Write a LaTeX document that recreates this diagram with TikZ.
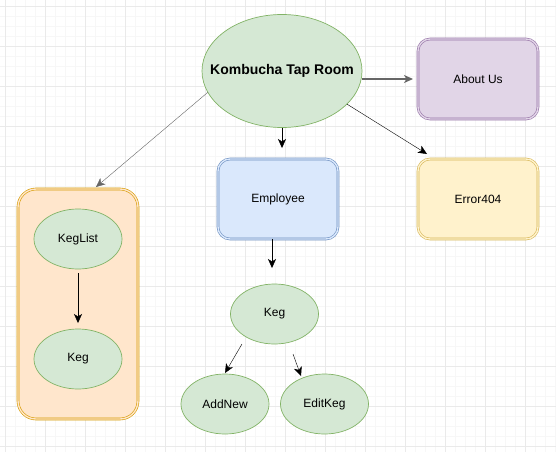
\documentclass[tikz,border=0pt]{standalone}
\usepackage{fontspec}
\setmainfont{Liberation Sans}
\usetikzlibrary{shapes.geometric,arrows.meta}

\definecolor{greenfill}{HTML}{D5E8D4}
\definecolor{greenline}{HTML}{82B366}
\definecolor{purplefill}{HTML}{E1D5E7}
\definecolor{purpleline}{HTML}{9673A6}
\definecolor{yellowfill}{HTML}{FFF2CC}
\definecolor{yellowline}{HTML}{D6B656}
\definecolor{bluefill}{HTML}{DAE8FC}
\definecolor{blueline}{HTML}{6C8EBF}
\definecolor{orangefill}{HTML}{FFE6CC}
\definecolor{orangeline}{HTML}{D79B00}
\definecolor{gridlight}{HTML}{F7F7F7}
\definecolor{griddark}{HTML}{EAEAEA}

\begin{document}
\begin{tikzpicture}[x=1pt, y=-1pt,
      >={Stealth[length=9pt, width=8pt, inset=2.5pt]},
      gridminor/.style={draw=gridlight, line width=0.7pt},
      gridmajor/.style={draw=griddark, line width=0.7pt},
      greenoval/.style={ellipse, draw=greenline, fill=greenfill, line width=0.7pt,
        minimum width=88pt, minimum height=60pt, inner sep=0pt, outer sep=0pt,
        font=\fontsize{12}{14}\selectfont},
      pagebox/.style={rectangle, rounded corners=12pt, minimum width=120pt,
        minimum height=80pt, line width=0.6pt, double distance=1.4pt,
        outer sep=0pt, font=\fontsize{12}{14}\selectfont},
      purplebox/.style={pagebox, draw=purpleline, fill=purplefill, double=purplefill},
      yellowbox/.style={pagebox, draw=yellowline, fill=yellowfill, double=yellowfill},
      bluebox/.style={pagebox, draw=blueline, fill=bluefill, double=bluefill},
      orangebox/.style={pagebox, draw=orangeline, fill=orangefill, double=orangefill,
        rounded corners=18pt, minimum height=230pt}]

    \useasboundingbox (0,0) rectangle (556,452);
    \fill[white] (0,0) rectangle (556,452);

    % background grid
    \foreach \x in {5,15,...,555} \draw[gridminor] (\x,0) -- (\x,452);
    \foreach \y in {6,16,...,446} \draw[gridminor] (0,\y) -- (556,\y);
    \foreach \x in {5,45,...,525} \draw[gridmajor] (\x,0) -- (\x,452);
    \foreach \y in {6,46,...,446} \draw[gridmajor] (0,\y) -- (556,\y);

    \node[greenoval, minimum width=160pt, minimum height=113pt, inner xsep=-20pt,
      font=\bfseries\fontsize{14}{16}\selectfont] (taproom) at (282,71) {Kombucha Tap Room};

    \node[purplebox] (aboutus) at (478,79) {About Us};
    \node[yellowbox] (error) at (478,199) {Error404};
    \node[bluebox] (employee) at (278,199) {Employee};
    \node[orangebox] (kegpanel) at (78,304) {};

    \node[greenoval] (keglist) at (78,239) {KegList};
    \node[greenoval] (kegA) at (78,359) {Keg};

    \node[greenoval] (kegB) at (274.5,314) {Keg};
    \node[greenoval] (addnew) at (225,404) {AddNew};
    \node[greenoval] (editkeg) at (324.5,404) {EditKeg};

    \draw[->, draw=black!60] (taproom.196) -- ([xshift=18pt, yshift=2pt]kegpanel.north);
    \draw[->] (taproom.south) -- ([xshift=4pt, yshift=11pt]employee.north);
    \draw[->, draw=black!60, line width=1.5pt] ([yshift=-8pt]taproom.east) -- ([xshift=-5pt]aboutus.west);
    \draw[->] (taproom.333) -- ([xshift=-51pt, yshift=5pt]error.north);

    \draw[->] ([yshift=-4pt]keglist.south) -- ([yshift=6pt]kegA.north);

    \draw[->] ([xshift=-6pt]employee.south) -- ([xshift=-2.5pt, yshift=16pt]kegB.north);
    \draw[->] ([xshift=-32.5pt]kegB.south) -- ([yshift=1pt]addnew.north);
    \draw[->] ([xshift=18.5pt, yshift=-10pt]kegB.south) -- ([xshift=-23.5pt, yshift=-2pt]editkeg.north);

  \end{tikzpicture}
\end{document}
